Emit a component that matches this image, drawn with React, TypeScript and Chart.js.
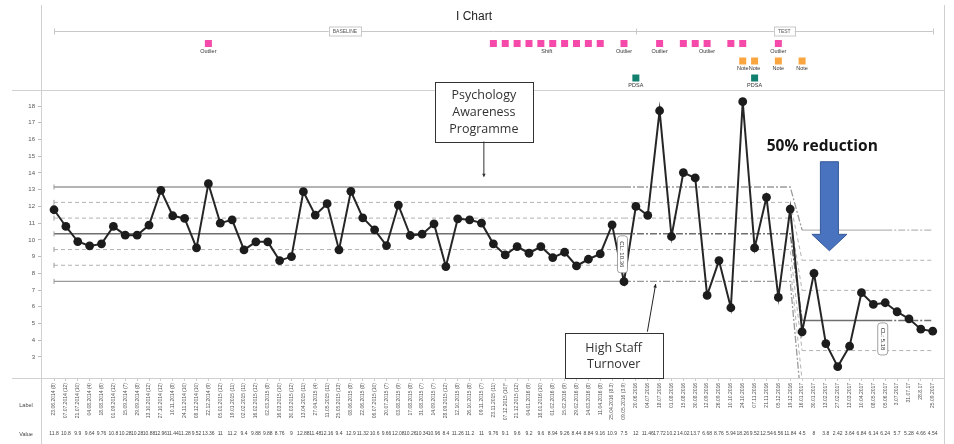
import { useEffect, useRef } from "react";
import { Chart, registerables } from "chart.js";
Chart.register(...registerables);

const chartTitle = "I Chart";

const pointLabels = [
  "23.06.2014 (8)", "07.07.2014 (12)", "21.07.2014 (10)", "04.08.2014 (4)", "18.08.2014 (6)",
  "01.09.2014 (12)", "15.09.2014 (7)", "29.09.2014 (8)", "13.10.2014 (12)", "27.10.2014 (12)",
  "10.11.2014 (8)", "24.11.2014 (10)", "08.12.2014 (10)", "22.12.2014 (9)", "05.01.2015 (12)",
  "19.01.2015 (11)", "02.02.2015 (11)", "16.02.2015 (12)", "02.03.2015 (8)", "16.03.2015 (10)",
  "30.03.2015 (12)", "13.04.2015 (11)", "27.04.2015 (4)", "11.05.2015 (11)", "25.05.2015 (13)",
  "08.06.2015 (8)", "22.06.2015 (8)", "06.07.2015 (10)", "20.07.2015 (7)", "03.08.2015 (9)",
  "17.08.2015 (8)", "31.08.2015 (7)", "14.09.2015 (7)", "28.09.2015 (12)", "12.10.2015 (8)",
  "26.10.2015 (8)", "09.11.2015 (7)", "23.11.2015 (11)", "07.12.2015 (10)*", "21.12.2015 (12)",
  "04.01.2016 (9)", "18.01.2016 (10)", "01.02.2016 (8)", "15.02.2016 (9)", "29.02.2016 (8)",
  "14.03.2016 (8)", "11.04.2016 (8)", "25.04.2016 (8.3)", "09.05.2016 (3.9)",
  "20.06.2016", "04.07.2016", "18.07.2016", "01.08.2016", "15.08.2016", "30.08.2016",
  "12.09.2016", "26.09.2016", "10.10.2016", "24.10.2016", "07.11.2016", "21.11.2016",
  "05.12.2016", "19.12.2016", "16.01.2017", "30.01.2017", "13.02.2017", "27.02.2017",
  "13.03.2017", "10.04.2017", "08.05.2017", "05.06.2017", "3.07.2017", "31.07.17",
  "28.8.17", "25.09.2017",
];

const values = [
  11.8, 10.8, 9.9, 9.64, 9.76, 10.8, 10.28, 10.28, 10.88, 12.96,
  11.44, 11.28, 9.52, 13.36, 11.0, 11.2, 9.4, 9.88, 9.88, 8.76,
  9.0, 12.88, 11.48, 12.16, 9.4, 12.9, 11.32, 10.6, 9.66, 12.08,
  10.26, 10.34, 10.96, 8.4, 11.26, 11.2, 11.0, 9.76, 9.1, 9.6,
  9.2, 9.6, 8.94, 9.26, 8.44, 8.84, 9.16, 10.9, 7.5, 12.0,
  11.46, 17.72, 10.2, 14.02, 13.7, 6.68, 8.76, 5.94, 18.26, 9.52,
  12.54, 6.56, 11.84, 4.5, 8.0, 3.8, 2.42, 3.64, 6.84, 6.14,
  6.24, 5.7, 5.28, 4.66, 4.54,
];

const yTicks = [3, 4, 5, 6, 7, 8, 9, 10, 11, 12, 13, 14, 15, 16, 17, 18];

// UCL, +2s, +1s, CL, -1s, -2s, LCL
const phase1Limits = [13.16, 12.24, 11.3, 10.36, 9.42, 8.48, 7.52];
const phase2Limits = [10.58, 8.78, 6.98, 5.18, 3.38, 1.58, -0.22];
const clLabels = ["CL: 10.36", "CL: 5.18"];

const firstPoint = 1;
const phase1SolidEnd = 49;
const phase1ProjEnd = 63;
const phase2Start = 64;
const phase2SolidEnd = 71;
const lastPoint = 75;

const phaseNames = ["BASELINE", "TEST"];
const phaseBounds = [1, 50, 75];

const outlierPoints = [14, 38, 39, 40, 41, 42, 43, 44, 45, 46, 47, 49, 52, 54, 55, 56, 58, 59, 62];
const outlierTexts = [
  { at: 14, text: "Outlier" },
  { at: 42.5, text: "Shift" },
  { at: 49, text: "Outlier" },
  { at: 52, text: "Outlier" },
  { at: 56, text: "Outlier" },
  { at: 62, text: "Outlier" },
];
const notePoints = [59, 60, 62, 64];
const pdsaPoints = [50, 60];

const psychText = ["Psychology", "Awareness", "Programme"];
const staffText = ["High Staff", "Turnover"];
const reductionText = "50% reduction";

function buildLimitDatasets() {
  const sets: any[] = [];
  phase1Limits.forEach((p1, k) => {
    const p2 = phase2Limits[k];
    const isCL = k === 3;
    const isLim = k === 0 || k === 6;
    const solidColor = isCL ? "#6f6f6f" : isLim ? "#9a9a9a" : "#b3b3b3";
    const w = isCL ? 1.5 : isLim ? 1.3 : 1;
    const solidDash = isCL || isLim ? [] : [4, 3];
    const projDash = isCL || isLim ? [7, 2, 2, 2] : [4, 3];
    const base = { pointRadius: 0, fill: false, tension: 0 };
    sets.push({ ...base, data: [{ x: firstPoint, y: p1 }, { x: phase1SolidEnd, y: p1 }], borderColor: solidColor, borderWidth: w, borderDash: solidDash });
    sets.push({ ...base, data: [{ x: phase1SolidEnd, y: p1 }, { x: phase1ProjEnd, y: p1 }, { x: phase2Start, y: p2 }], borderColor: solidColor, borderWidth: w, borderDash: projDash });
    sets.push({ ...base, data: [{ x: phase2Start, y: p2 }, { x: phase2SolidEnd, y: p2 }], borderColor: isLim ? "#b8b8b8" : solidColor, borderWidth: w, borderDash: solidDash });
    sets.push({ ...base, data: [{ x: phase2SolidEnd, y: p2 }, { x: lastPoint, y: p2 }], borderColor: isLim ? "#b8b8b8" : solidColor, borderWidth: w, borderDash: projDash });
  });
  return sets;
}

function arrowHead(ctx: CanvasRenderingContext2D, x1: number, y1: number, x2: number, y2: number, size: number) {
  const a = Math.atan2(y2 - y1, x2 - x1);
  ctx.beginPath();
  ctx.moveTo(x2, y2);
  ctx.lineTo(x2 - size * Math.cos(a - 0.45), y2 - size * Math.sin(a - 0.45));
  ctx.lineTo(x2 - size * Math.cos(a + 0.45), y2 - size * Math.sin(a + 0.45));
  ctx.closePath();
  ctx.fill();
}

const framePlugin = {
  id: "frame",
  beforeDraw(chart: any) {
    const { ctx, chartArea: ca } = chart;
    ctx.save();
    ctx.fillStyle = "#ffffff";
    ctx.fillRect(0, 0, chart.width, chart.height);
    ctx.strokeStyle = "#d0d0d0";
    ctx.lineWidth = 1;
    const l = (x1: number, y1: number, x2: number, y2: number) => {
      ctx.beginPath(); ctx.moveTo(x1, y1); ctx.lineTo(x2, y2); ctx.stroke();
    };
    l(ca.left - 29, Math.round(ca.top) + 0.5, ca.right, Math.round(ca.top) + 0.5);
    l(ca.left - 29, Math.round(ca.bottom) + 0.5, ca.right, Math.round(ca.bottom) + 0.5);
    l(Math.round(ca.left) + 0.5, 5, Math.round(ca.left) + 0.5, chart.height);
    l(Math.round(ca.right) + 0.5, 5, Math.round(ca.right) + 0.5, chart.height);
    ctx.restore();
  },
  afterDraw(chart: any) {
    const { ctx, chartArea: ca, scales } = chart;
    const X = (v: number) => scales.x.getPixelForValue(v);
    const Y = (v: number) => scales.y.getPixelForValue(v);
    ctx.save();

    // line start caps
    ctx.strokeStyle = "#9a9a9a";
    ctx.lineWidth = 1;
    phase1Limits.forEach((v) => {
      ctx.beginPath(); ctx.moveTo(X(firstPoint), Y(v) - 2.5); ctx.lineTo(X(firstPoint), Y(v) + 2.5); ctx.stroke();
    });

    // title
    ctx.fillStyle = "#222";
    ctx.font = '12px "Liberation Sans", Arial, sans-serif';
    ctx.textAlign = "center";
    ctx.textBaseline = "middle";
    ctx.fillText(chartTitle, chart.width / 2 - 3, 17);

    // phase bar
    const barY = 31.5;
    ctx.strokeStyle = "#c8c8c8";
    ctx.beginPath(); ctx.moveTo(X(phaseBounds[0]), barY); ctx.lineTo(X(phaseBounds[2]), barY); ctx.stroke();
    phaseBounds.forEach((b) => {
      ctx.beginPath(); ctx.moveTo(Math.round(X(b)) + 0.5, barY - 3); ctx.lineTo(Math.round(X(b)) + 0.5, barY + 3); ctx.stroke();
    });
    ctx.font = '5px "Liberation Sans", Arial, sans-serif';
    phaseNames.forEach((name, i) => {
      const cx = (X(phaseBounds[i]) + X(phaseBounds[i + 1])) / 2;
      const w = ctx.measureText(name).width + 8;
      ctx.fillStyle = "#fff";
      ctx.fillRect(cx - w / 2, barY - 4.5, w, 9);
      ctx.strokeStyle = "#c8c8c8";
      ctx.strokeRect(Math.round(cx - w / 2) + 0.5, barY - 4.5, Math.round(w), 9);
      ctx.fillStyle = "#555";
      ctx.fillText(name, cx, barY + 0.5);
    });

    // markers
    const sq = (x: number, y: number, c: string) => {
      ctx.fillStyle = c; ctx.fillRect(x - 3.5, y - 3.5, 7, 7);
    };
    const pinkY = 43.5, noteY = 61, pdsaY = 78;
    outlierPoints.forEach((p) => sq(X(p), pinkY, "#f54aa9"));
    notePoints.forEach((p) => sq(X(p), noteY, "#f9a540"));
    pdsaPoints.forEach((p) => sq(X(p), pdsaY, "#11806f"));
    ctx.fillStyle = "#333";
    ctx.font = '5.5px "Liberation Sans", Arial, sans-serif';
    outlierTexts.forEach((t) => ctx.fillText(t.text, X(t.at), pinkY + 7.5));
    notePoints.forEach((p) => ctx.fillText("Note", X(p), noteY + 7.5));
    pdsaPoints.forEach((p) => ctx.fillText("PDSA", X(p), pdsaY + 7.5));

    // bottom row titles and values
    ctx.fillStyle = "#444";
    ctx.font = '5.5px "Liberation Sans", Arial, sans-serif';
    ctx.fillText("Label", 26, 405);
    ctx.fillText("Value", 26, 434);
    ctx.font = '5px "Liberation Sans", Arial, sans-serif';
    values.forEach((v, i) => ctx.fillText(String(v), X(i + 1), 434));

    // CL labels
    const clLabel = (cx: number, top: number, text: string, h: number) => {
      ctx.save();
      ctx.translate(cx, top + h / 2);
      ctx.rotate(Math.PI / 2);
      ctx.fillStyle = "#fff";
      ctx.strokeStyle = "#8a8a8a";
      ctx.lineWidth = 0.8;
      ctx.beginPath();
      (ctx as any).roundRect(-h / 2, -5, h, 10, 3);
      ctx.fill(); ctx.stroke();
      ctx.fillStyle = "#333";
      ctx.font = '6px "Liberation Sans", Arial, sans-serif';
      ctx.fillText(text, 0, 0.5);
      ctx.restore();
    };
    clLabel(X(phase1SolidEnd) - 1.5, Y(phase1Limits[3]) + 2, clLabels[0], 37);
    clLabel(X(phase2SolidEnd) - 2.5, Y(phase2Limits[3]) + 2.5, clLabels[1], 32);

    // Psychology Awareness Programme box
    const pax = X(37.2);
    const ptip = Y(13.8);
    const pTop = ca.top - 8.5;
    const pBot = pTop + 60;
    ctx.fillStyle = "#fff";
    ctx.fillRect(pax - 49, pTop, 98, 60);
    ctx.strokeStyle = "#333";
    ctx.lineWidth = 1;
    ctx.strokeRect(Math.round(pax - 49) + 0.5, Math.round(pTop) + 0.5, 98, 60);
    ctx.fillStyle = "#333";
    ctx.font = '12.5px "Open Sans", "Noto Sans", sans-serif';
    psychText.forEach((t, i) => ctx.fillText(t, pax, pTop + 14 + i * 17));
    ctx.beginPath(); ctx.moveTo(pax, pBot); ctx.lineTo(pax, ptip); ctx.stroke();
    arrowHead(ctx, pax, pBot, pax, ptip + 1, 4);

    // High Staff Turnover box
    const hcx = X(48.13);
    const hTop = Y(4.43);
    const hBot = ca.bottom;
    ctx.fillStyle = "#fff";
    ctx.fillRect(hcx - 49, hTop, 98, hBot - hTop);
    ctx.strokeStyle = "#333";
    ctx.strokeRect(Math.round(hcx - 49) + 0.5, Math.round(hTop) + 0.5, 98, Math.round(hBot - hTop));
    ctx.fillStyle = "#333";
    ctx.font = '12.5px "Open Sans", "Noto Sans", sans-serif';
    staffText.forEach((t, i) => ctx.fillText(t, hcx, hTop + 15 + i * 16));
    const tx1 = X(50.97), ty1 = Y(4.51), tx2 = X(51.67), ty2 = Y(7.36);
    ctx.strokeStyle = "#222";
    ctx.beginPath(); ctx.moveTo(tx1, ty1); ctx.lineTo(tx2, ty2); ctx.stroke();
    ctx.fillStyle = "#222";
    arrowHead(ctx, tx1, ty1, tx2, ty2, 4);

    // 50% reduction
    ctx.fillStyle = "#151515";
    ctx.font = 'bold 15.5px "Open Sans", "Noto Sans", sans-serif';
    ctx.fillText(reductionText, X(65.7), Y(15.55));
    const bx = X(66.3);
    const sTop = Y(14.67), hdTop = Y(10.33), tip = Y(9.35);
    ctx.beginPath();
    ctx.moveTo(bx - 9, sTop);
    ctx.lineTo(bx + 9, sTop);
    ctx.lineTo(bx + 9, hdTop);
    ctx.lineTo(bx + 17.5, hdTop);
    ctx.lineTo(bx, tip);
    ctx.lineTo(bx - 17.5, hdTop);
    ctx.lineTo(bx - 9, hdTop);
    ctx.closePath();
    ctx.fillStyle = "#4a73bf";
    ctx.fill();
    ctx.strokeStyle = "#35589a";
    ctx.lineWidth = 1;
    ctx.stroke();

    ctx.restore();
  },
};

export default function App() {
  const ref = useRef<HTMLCanvasElement | null>(null);
  useEffect(() => {
    document.body.style.margin = "0";
    if (!ref.current) return;
    const dataSet = {
      data: values.map((v, i) => ({ x: i + 1, y: v })),
      borderColor: "#262626",
      borderWidth: 2,
      pointRadius: 4.4,
      pointBackgroundColor: "#1c1c1c",
      pointBorderWidth: 0,
      pointHoverRadius: 4.4,
      fill: false,
      tension: 0,
    };
    const chart = new Chart(ref.current, {
      type: "line",
      data: { datasets: [dataSet, ...buildLimitDatasets()] },
      options: {
        animation: false,
        responsive: false,
        devicePixelRatio: 1,
        layout: { padding: { top: 90, right: 10, left: 0, bottom: 0 } },
        plugins: { legend: { display: false }, tooltip: { enabled: false }, title: { display: false } },
        scales: {
          x: {
            type: "linear",
            min: -0.096,
            max: 75.95,
            afterBuildTicks: (scale: any) => {
              scale.ticks = pointLabels.map((_, i) => ({ value: i + 1 }));
            },
            afterFit: (scale: any) => {
              scale.height = 66;
            },
            ticks: {
              autoSkip: false,
              minRotation: 90,
              maxRotation: 90,
              padding: 2,
              color: "#555",
              font: { family: "Liberation Sans", size: 5 },
              callback: (v: any) => pointLabels[Math.round(v) - 1] ?? "",
            },
            grid: { drawOnChartArea: false, tickLength: 3, color: "#cccccc" },
            border: { display: false },
          },
          y: {
            type: "linear",
            min: 1.74,
            max: 18.96,
            afterBuildTicks: (scale: any) => {
              scale.ticks = yTicks.map((v) => ({ value: v }));
            },
            afterFit: (scale: any) => {
              scale.width = 41;
            },
            ticks: {
              padding: 3,
              color: "#555",
              font: { family: "Liberation Sans", size: 6 },
            },
            grid: { drawOnChartArea: false, tickLength: 3, color: "#bbbbbb" },
            border: { display: false },
          },
        },
      },
      plugins: [framePlugin],
    });
    return () => chart.destroy();
  }, []);
  return (
    <div style={{ width: 954, height: 444, overflow: "hidden", background: "#fff" }}>
      <canvas ref={ref} width={954} height={444} style={{ display: "block" }} />
    </div>
  );
}
